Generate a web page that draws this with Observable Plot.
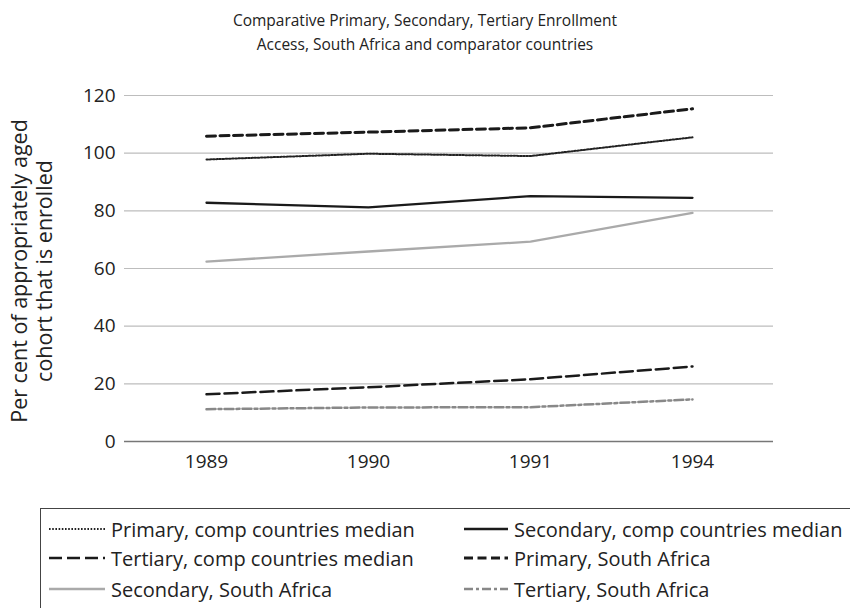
<!DOCTYPE html>
<html>
<head>
<meta charset="utf-8">
<script src="https://cdn.jsdelivr.net/npm/d3@7"></script>
<script src="https://cdn.jsdelivr.net/npm/@observablehq/plot@0.6"></script>
<style>
  body { margin: 0; background: #fff; font-family: "Open Sans", sans-serif; color: #222; }
  #wrap { position: relative; width: 850px; height: 608px; overflow: hidden; }
  #title { position: absolute; left: 0; top: 8px; width: 850px; text-align: center; font-size: 15.5px; line-height: 24px; }
  #chart { position: absolute; left: 0; top: 64px; }
  #legend { position: absolute; left: 40px; top: 508px; width: 830px; height: 120px; border: 1px solid #444; box-sizing: border-box; }
  .item { position: absolute; display: flex; align-items: center; font-size: 20px; white-space: nowrap; }
</style>
</head>
<body>
<div id="wrap">
  <div id="title">Comparative Primary, Secondary, Tertiary Enrollment<br>Access, South Africa and comparator countries</div>
  <div id="chart"></div>
  <div id="legend"></div>
</div>
<script>
const years = ["1989", "1990", "1991", "1994"];
const primaryComp = [97.8, 99.8, 99.0, 105.5];
const secondaryComp = [82.8, 81.2, 85.1, 84.5];
const tertiaryComp = [16.4, 18.8, 21.6, 26.0];
const primarySA = [105.9, 107.3, 108.8, 115.4];
const secondarySA = [62.4, 65.9, 69.3, 79.3];
const tertiarySA = [11.2, 11.8, 11.9, 14.6];
const yTicks = [0, 20, 40, 60, 80, 100, 120];
const seriesNames = [
  "Primary, comp countries median",
  "Secondary, comp countries median",
  "Tertiary, comp countries median",
  "Primary, South Africa",
  "Secondary, South Africa",
  "Tertiary, South Africa"
];
const seriesValues = [primaryComp, secondaryComp, tertiaryComp, primarySA, secondarySA, tertiarySA];

const styles = [
  {stroke: "#222", strokeWidth: 2, strokeDasharray: "1.6,1.6"},
  {stroke: "#1a1a1a", strokeWidth: 2.3, strokeDasharray: null},
  {stroke: "#1a1a1a", strokeWidth: 2.5, strokeDasharray: "13,5"},
  {stroke: "#1a1a1a", strokeWidth: 3, strokeDasharray: "9,4.5"},
  {stroke: "#aaaaaa", strokeWidth: 2.3, strokeDasharray: null},
  {stroke: "#888888", strokeWidth: 2.5, strokeDasharray: "9,3,3,3"}
];

const data = seriesNames.flatMap((name, i) =>
  years.map((yr, j) => ({series: name, year: yr, value: seriesValues[i][j]})));

const lineMarks = seriesNames.map((name, i) => {
  const s = styles[i];
  const opts = {x: "year", y: "value", stroke: s.stroke, strokeWidth: s.strokeWidth, strokeLinejoin: "round"};
  if (s.strokeDasharray) opts.strokeDasharray = s.strokeDasharray;
  return Plot.line(data.filter(d => d.series === name), opts);
});

const chart = Plot.plot({
  width: 850,
  height: 426,
  marginLeft: 124,
  marginRight: 77,
  marginTop: 31,
  marginBottom: 49,
  style: {fontFamily: "Open Sans, sans-serif", color: "#222", background: "#fff"},
  x: {type: "point", domain: years, padding: 0.5, label: null},
  y: {domain: [0, 120], label: null},
  marks: [
    Plot.gridY(yTicks.filter(t => t > 0), {stroke: "#bdbdbd", strokeOpacity: 1, strokeWidth: 1.2}),
    Plot.ruleY([0], {stroke: "#777", strokeWidth: 1.6}),
    Plot.axisY(yTicks, {tickSize: 0, tickPadding: 9, label: null, fill: "#222", fontSize: 19}),
    Plot.axisX({tickSize: 0, tickPadding: 13, label: null, fill: "#222", fontSize: 19}),
    ...lineMarks
  ]
});
document.getElementById("chart").appendChild(chart);

// rotated y-axis title
const svg = d3.select(chart);
const ylab = svg.append("text")
  .attr("transform", "translate(33.5,207) rotate(-90)")
  .attr("text-anchor", "middle")
  .attr("fill", "#222")
  .style("font-size", "21.5px");
ylab.append("tspan").attr("x", 0).attr("dy", "-0.3em").text("Per cent of appropriately aged");
ylab.append("tspan").attr("x", 0).attr("dy", "1.18em").text("cohort that is enrolled");

// legend
const legend = document.getElementById("legend");
const pos = [
  [8, 20, 56], [423, 20, 44],
  [8, 49, 56], [423, 49, 44],
  [8, 80, 56], [423, 80, 44]
];
seriesNames.forEach((name, i) => {
  const s = styles[i];
  const div = document.createElement("div");
  div.className = "item";
  div.style.left = pos[i][0] + "px";
  div.style.top = (pos[i][1] - 15) + "px";
  div.style.height = "30px";
  const w = pos[i][2];
  const sw = d3.create("svg").attr("width", w).attr("height", 30).style("margin-right", "6px");
  sw.append("line").attr("x1", 0).attr("x2", w).attr("y1", 15).attr("y2", 15)
    .attr("stroke", s.stroke).attr("stroke-width", s.strokeWidth)
    .attr("stroke-dasharray", s.strokeDasharray);
  div.appendChild(sw.node());
  const span = document.createElement("span");
  span.textContent = name;
  div.appendChild(span);
  legend.appendChild(div);
});
</script>
</body>
</html>
